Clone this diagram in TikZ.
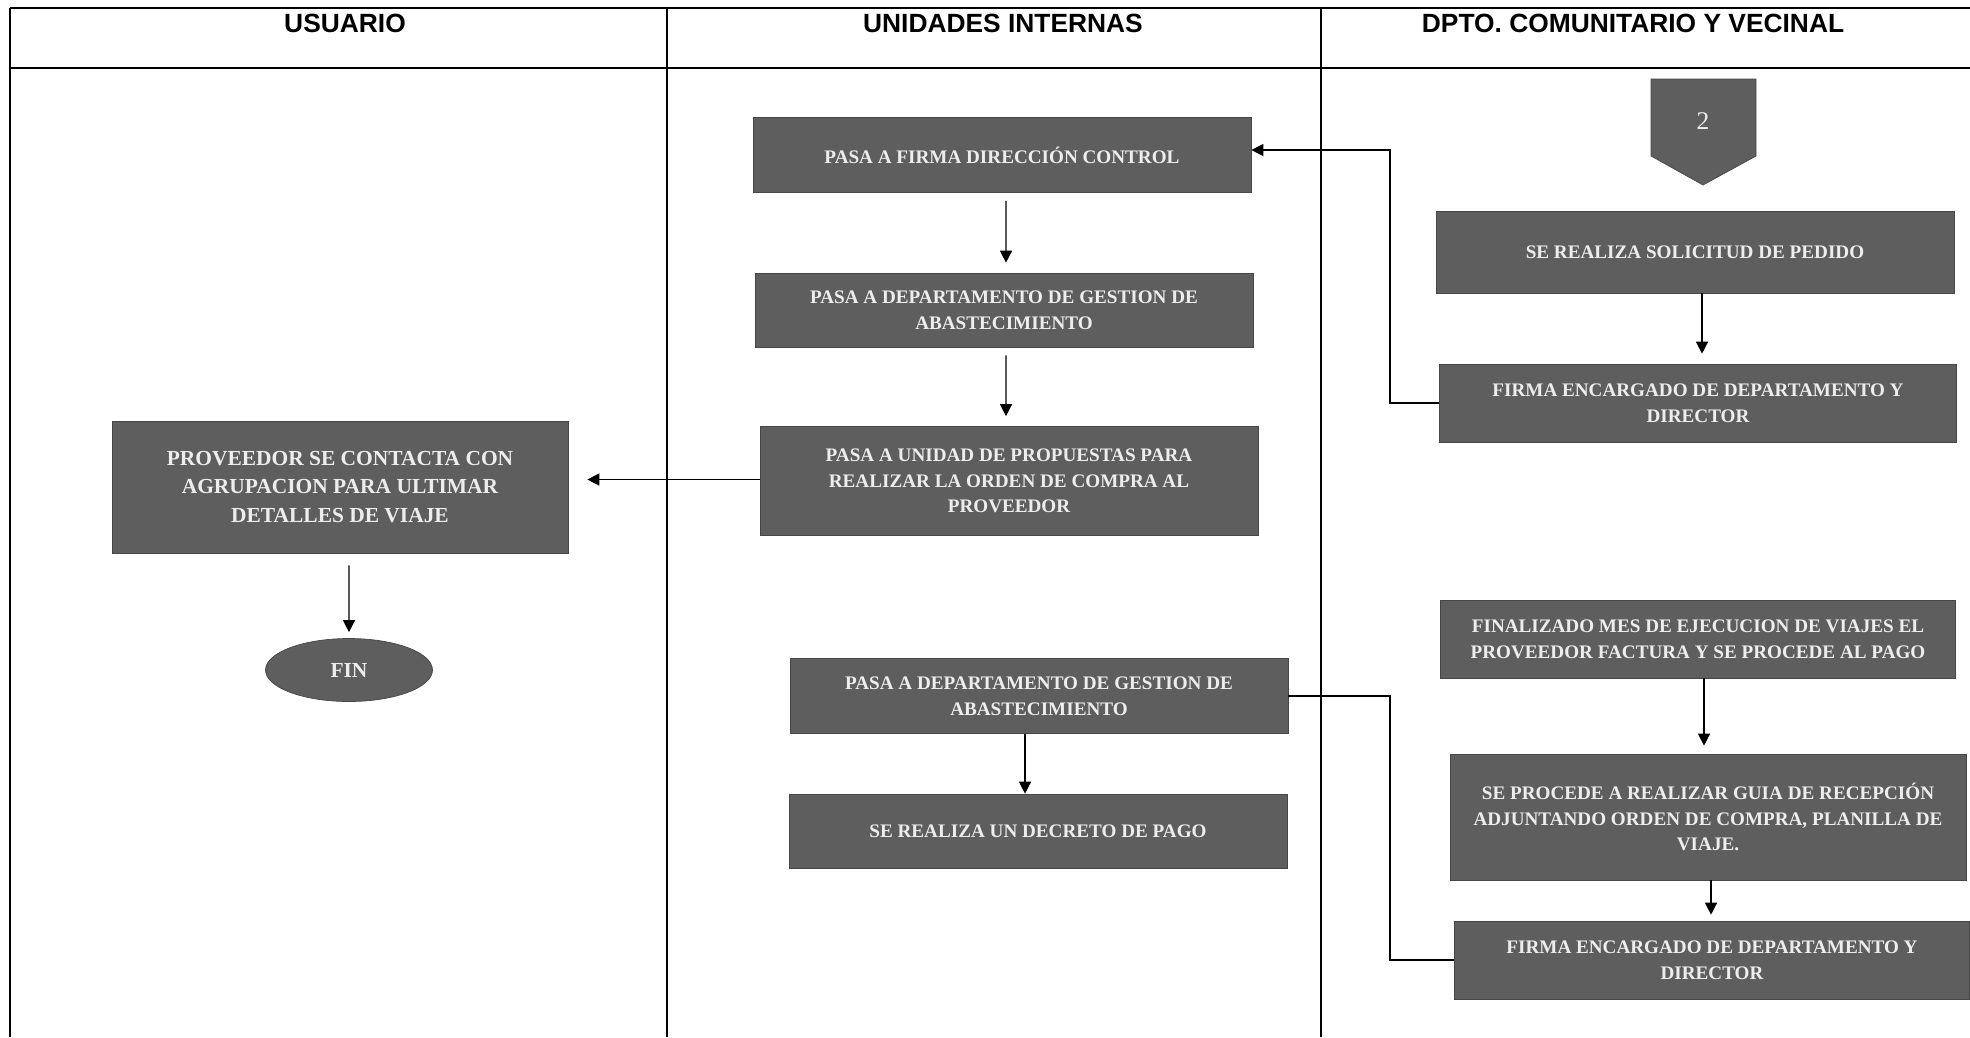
\documentclass[tikz,border=0pt]{standalone}
\usepackage{fontspec}
\setmainfont{Liberation Serif}
\newfontfamily\cabecera{Liberation Sans}
\usetikzlibrary{arrows.meta,positioning,shapes.geometric}

\tikzset{
  paso/.style={draw=black!72, fill=black!63, text=white!93!black, align=center,
    font=\bfseries\fontsize{10.9}{14.6}\selectfont, inner sep=2pt},
  grande/.style={font=\bfseries\fontsize{12.2}{16}\selectfont},
  titulo/.style={font=\cabecera\bfseries\fontsize{15}{18}\selectfont, anchor=base},
  flecha/.style={-{Triangle[width=2.4mm,length=2.4mm]}, line width=0.8pt},
  linea/.style={line width=0.8pt},
}

\begin{document}
\begin{tikzpicture}[x=0.2mm, y=-0.2mm]
\useasboundingbox (0,0) rectangle (1970,1037);

% tabla
\draw[line width=1.4pt] (10,8) -- (1970,8);
\draw[line width=1.4pt] (10,68) -- (1970,68);
\draw[line width=1pt] (10,8) -- (10,1037);
\draw[line width=1pt] (667,8) -- (667,1037);
\draw[line width=1pt] (1321,8) -- (1321,1037);

\node[titulo] (hUsuario) at (345,32) {USUARIO};
\node[titulo] (hUnidades) at (1003,32) {UNIDADES INTERNAS};
\node[titulo] (hDpto) at (1633,32) {DPTO. COMUNITARIO Y VECINAL};

% usuario
\node[paso, grande, minimum width=9.12cm, minimum height=2.64cm] (proveedor) at (340,487) {PROVEEDOR SE CONTACTA CON\\AGRUPACION PARA ULTIMAR\\DETALLES DE VIAJE};
\node[paso, grande, ellipse, minimum width=3.34cm, minimum height=1.26cm] (fin) at (349,670) {FIN};

% unidades internas
\node[paso, minimum width=9.96cm, minimum height=1.5cm] (firmaDir) at (1002,155) {PASA A FIRMA DIRECCIÓN CONTROL};
\node[paso, minimum width=9.96cm, minimum height=1.48cm] (gestionA) at (1004,310) {PASA A DEPARTAMENTO DE GESTION DE\\ABASTECIMIENTO};
\node[paso, minimum width=9.96cm, minimum height=2.18cm] (propuestas) at (1009,481) {PASA A UNIDAD DE PROPUESTAS PARA\\REALIZAR LA ORDEN DE COMPRA AL\\PROVEEDOR};
\node[paso, minimum width=9.96cm, minimum height=1.5cm] (gestionB) at (1039,696) {PASA A DEPARTAMENTO DE GESTION DE\\ABASTECIMIENTO};
\node[paso, minimum width=9.96cm, minimum height=1.48cm] (decreto) at (1038,831) {SE REALIZA UN DECRETO DE PAGO};

% dpto. comunitario
\draw[draw=black!72, fill=black!63] (1651,79) -- (1756,79) -- (1756,156) -- (1703,185) -- (1651,156) -- cycle;
\node[text=white!93!black, font=\fontsize{14.5}{16}\selectfont] (dos) at (1703,121) {2};
\node[paso, minimum width=10.36cm, minimum height=1.64cm] (solicitud) at (1695,252) {SE REALIZA SOLICITUD DE PEDIDO};
\node[paso, minimum width=10.34cm, minimum height=1.56cm] (firmaEncA) at (1698,403) {FIRMA ENCARGADO DE DEPARTAMENTO Y\\DIRECTOR};
\node[paso, minimum width=10.3cm, minimum height=1.56cm] (finalizado) at (1698,639) {FINALIZADO MES DE EJECUCION DE VIAJES EL\\PROVEEDOR FACTURA Y SE PROCEDE AL PAGO};
\node[paso, minimum width=10.32cm, minimum height=2.52cm] (guia) at (1708,817) {SE PROCEDE A REALIZAR GUIA DE RECEPCIÓN\\ADJUNTANDO ORDEN DE COMPRA, PLANILLA DE\\VIAJE.};
\node[paso, minimum width=10.3cm, minimum height=1.56cm] (firmaEncB) at (1712,960) {FIRMA ENCARGADO DE DEPARTAMENTO Y\\DIRECTOR};

% conectores
\draw[flecha, shorten <=1.6mm, shorten >=2mm] ([xshift=0.8mm]firmaDir.south) -- ([xshift=0.4mm]gestionA.north);
\draw[flecha, shorten <=1.6mm, shorten >=2mm] ([xshift=0.4mm]gestionA.south) -- ([xshift=-0.6mm]propuestas.north);
\draw[flecha, shorten >=3.8mm] ([yshift=0.3mm]propuestas.west) -- ([yshift=0.3mm]propuestas.west -| proveedor.east);
\draw[flecha, shorten <=2.4mm, shorten >=1.2mm] ([xshift=1.8mm]proveedor.south) -- (fin.north);
\draw[flecha] ([xshift=-2.8mm]gestionB.south) -- ([xshift=-2.8mm]gestionB.south |- decreto.north);
\draw[flecha, shorten >=2mm] ([xshift=1.4mm]solicitud.south) -- ([xshift=1.4mm]solicitud.south |- firmaEncA.north);
\draw[flecha, shorten >=1.6mm] ([xshift=1.2mm]finalizado.south) -- ([xshift=1.2mm]finalizado.south |- guia.north);
\draw[flecha, shorten >=1.2mm] ([xshift=0.6mm]guia.south) -- ([xshift=0.6mm]guia.south |- firmaEncB.north);
\draw[flecha] (firmaEncA.west) -- ++(-49,0) |- ([yshift=1mm]firmaDir.east);
\draw[linea] (firmaEncB.west) -- ++(-64,0) |- (gestionB.east);
\end{tikzpicture}
\end{document}
